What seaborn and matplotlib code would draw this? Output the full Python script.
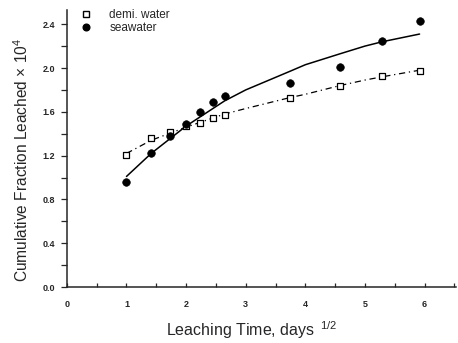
import matplotlib
matplotlib.use("Agg")
import matplotlib.pyplot as plt
import seaborn as sns
import pandas as pd
from matplotlib.ticker import MultipleLocator, FormatStrFormatter
from matplotlib.lines import Line2D

sns.set_style("ticks")
plt.rcParams['font.family'] = ['Liberation Sans', 'DejaVu Sans']
plt.rcParams['mathtext.fontset'] = 'custom'
plt.rcParams['mathtext.rm'] = 'Liberation Sans'

time_sqrt = [1.0, 1.414, 1.732, 2.0, 2.236, 2.449, 2.646, 3.742, 4.583, 5.292, 5.916]
demi_water = [1.21, 1.36, 1.42, 1.47, 1.50, 1.54, 1.57, 1.73, 1.84, 1.925, 1.97]
seawater = [0.955, 1.22, 1.38, 1.49, 1.60, 1.69, 1.74, 1.86, 2.01, 2.245, 2.43]

fit_x = [1.0, 1.414, 2.0, 2.646, 3.0, 3.742, 4.0, 4.583, 5.0, 5.292, 5.916]
fit_sea = [1.01, 1.22, 1.47, 1.70, 1.80, 1.97, 2.03, 2.13, 2.20, 2.24, 2.31]
fit_demi = [1.22, 1.34, 1.46, 1.58, 1.63, 1.73, 1.76, 1.84, 1.89, 1.92, 1.98]

fig = plt.figure(figsize=(4.58, 3.43), dpi=100)
ax = fig.add_axes([0.146, 0.163, 0.85, 0.808])

fit_df = pd.DataFrame({"x": fit_x, "sea": fit_sea, "demi": fit_demi})
sns.lineplot(data=fit_df, x="x", y="sea", ax=ax, color="black", lw=1.1, sort=False)
sns.lineplot(data=fit_df, x="x", y="demi", ax=ax, color="black", lw=0.9,
             dashes=False, sort=False, linestyle=(0, (5, 3, 1, 3)))

pts = pd.DataFrame({"x": time_sqrt, "demi": demi_water, "sea": seawater})
sns.scatterplot(data=pts, x="x", y="demi", ax=ax, marker="s", s=22,
                facecolor="white", edgecolor="black", linewidth=0.9, zorder=3)
sns.scatterplot(data=pts, x="x", y="sea", ax=ax, marker="o", s=30,
                color="black", edgecolor="black", zorder=3)

ax.set_xlim(0, 6.53)
ax.set_ylim(0, 2.53)
ax.xaxis.set_major_locator(MultipleLocator(1))
ax.xaxis.set_minor_locator(MultipleLocator(0.5))
ax.yaxis.set_major_locator(MultipleLocator(0.4))
ax.yaxis.set_minor_locator(MultipleLocator(0.2))
ax.yaxis.set_major_formatter(FormatStrFormatter('%.1f'))
ax.tick_params(axis='x', which='both', direction='in', length=3, width=0.9, labelsize=6.5, pad=9)
ax.tick_params(axis='y', which='both', direction='out', length=4.5, width=0.9, labelsize=6.5, pad=4)
for lab in ax.get_xticklabels() + ax.get_yticklabels():
    lab.set_fontweight('bold')
sns.despine(ax=ax)
for sp in ['left', 'bottom']:
    ax.spines[sp].set_linewidth(1.1)

ax.set_xlabel("Leaching Time, days $^{\\,1/2}$", fontsize=11.5, va='center')
ax.set_ylabel(r"Cumulative Fraction Leached $\times$ 10$^4$", fontsize=11.2, va='center')
ax.xaxis.set_label_coords(0.475, -0.155)
ax.yaxis.set_label_coords(-0.115, 0.46)

handles = [
    Line2D([], [], marker='s', ls='none', markerfacecolor='white', markeredgecolor='black', markersize=4.2),
    Line2D([], [], marker='o', ls='none', color='black', markersize=4.8),
]
ax.legend(handles, ["demi. water", "seawater"], loc='upper left', frameon=False,
          fontsize=8.5, handletextpad=1.0, borderaxespad=0.2, labelspacing=0.1,
          bbox_to_anchor=(0.0, 1.03))

fig.savefig("out.png", dpi=100)
